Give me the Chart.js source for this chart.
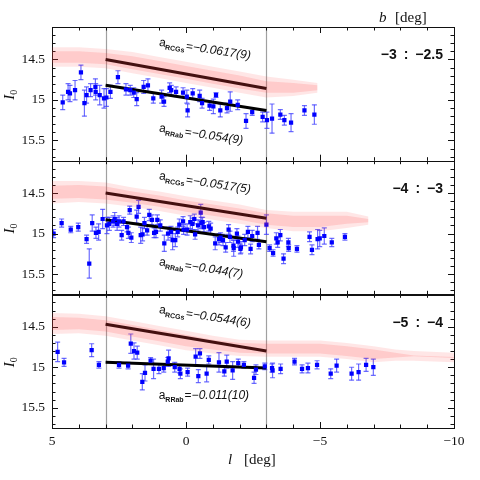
<!DOCTYPE html>
<html>
<head>
<meta charset="utf-8">
<script src="https://cdn.jsdelivr.net/npm/chart.js@4"></script>
<style>
body{margin:0;background:#fff;}
#wrap{position:relative;width:480px;height:480px;}
#wrap canvas{position:absolute;left:0;top:0;}
</style>
</head>
<body>
<div id="wrap">
<canvas id="panel0" width="480" height="480"></canvas>
<canvas id="panel1" width="480" height="480"></canvas>
<canvas id="panel2" width="480" height="480"></canvas>
<canvas id="halo0" width="480" height="480"></canvas>
<canvas id="core0" width="480" height="480"></canvas>
<canvas id="halo1" width="480" height="480"></canvas>
<canvas id="core1" width="480" height="480"></canvas>
<canvas id="halo2" width="480" height="480"></canvas>
<canvas id="core2" width="480" height="480"></canvas>
</div>
<script>
// tick labels and panel texts
var l_ticks = [5, 0, -5, -10];
var I_ticks = [14.5, 15, 15.5];
var b_ranges = ["\u22123\u2002:\u2002\u22122.5", "\u22124\u2002:\u2002\u22123", "\u22125\u2002:\u2002\u22124"];
var slope_rcg = ["\u22120.0617(9)", "\u22120.0517(5)", "\u22120.0544(6)"];
var slope_rr = ["\u22120.054(9)", "\u22120.044(7)", "\u22120.011(10)"];

// fitted lines, from l=3 to l=-3
var fit_l = [3, -3];
var fit_rcg = [[14.50, 14.86], [14.50, 14.81], [14.47, 14.80]];
var fit_rr = [[14.82, 15.13], [14.83, 15.10], [14.94, 15.01]];

// RRab stars, b from -3 to -2.5
var rr0_l = [4.60, 4.40, 4.33, 4.14, 3.92, 3.79, 3.71, 3.56, 3.38, 3.37, 3.22, 3.06, 2.97, 2.82, 2.54, 2.24, 2.08, 1.95, 1.84, 1.58, 1.42, 1.22, 0.91, 0.82, 0.61, 0.55, 0.37, 0.11, -0.03, -0.06, -0.25, -0.51, -0.60, -0.88, -1.02, -1.12, -1.28, -1.53, -1.65, -1.93, -2.24, -2.47, -2.86, -3.02, -3.21, -3.52, -3.67, -3.92, -4.42, -4.79];
var rr0_I = [15.03, 14.90, 14.92, 14.88, 14.66, 15.04, 14.94, 14.88, 14.84, 14.90, 14.94, 14.98, 14.97, 14.90, 14.72, 14.87, 14.88, 14.91, 14.99, 14.84, 14.82, 14.98, 14.96, 15.02, 14.85, 14.88, 14.90, 14.91, 14.96, 15.13, 14.92, 14.95, 15.04, 15.07, 15.08, 14.94, 15.13, 15.10, 15.02, 15.06, 15.26, 15.15, 15.21, 15.25, 15.23, 15.18, 15.25, 15.28, 15.13, 15.18];
var rr0_err = [0.09, 0.10, 0.10, 0.12, 0.09, 0.16, 0.10, 0.08, 0.10, 0.10, 0.12, 0.12, 0.11, 0.08, 0.08, 0.07, 0.06, 0.06, 0.08, 0.08, 0.08, 0.06, 0.08, 0.06, 0.06, 0.06, 0.06, 0.06, 0.08, 0.08, 0.06, 0.07, 0.06, 0.06, 0.09, 0.03, 0.08, 0.06, 0.12, 0.06, 0.09, 0.04, 0.06, 0.10, 0.18, 0.06, 0.06, 0.11, 0.06, 0.12];

// RRab stars, b from -4 to -3
var rr1_l = [4.94, 4.64, 4.30, 4.02, 3.71, 3.61, 3.50, 3.36, 3.26, 3.11, 2.95, 2.86, 2.72, 2.66, 2.57, 2.50, 2.40, 2.33, 2.20, 2.15, 2.10, 2.04, 1.84, 1.77, 1.69, 1.62, 1.55, 1.45, 1.37, 1.27, 1.19, 1.12, 1.07, 0.96, 0.81, 0.67, 0.56, 0.50, 0.40, 0.31, 0.25, 0.11, 0.09, -0.04, -0.16, -0.24, -0.31, -0.34, -0.45, -0.55, -0.57, -0.62, -0.67, -0.85, -0.92, -1.09, -1.23, -1.29, -1.38, -1.48, -1.59, -1.64, -1.77, -1.78, -1.90, -1.94, -2.03, -2.05, -2.19, -2.31, -2.41, -2.47, -2.67, -2.72, -3.00, -3.12, -3.25, -3.37, -3.42, -3.52, -3.64, -3.82, -3.83, -4.14, -4.61, -4.70, -4.91, -4.99, -5.16, -5.44, -5.93];
var rr1_I = [15.00, 14.87, 14.95, 14.92, 15.07, 15.37, 14.87, 14.99, 14.98, 14.82, 14.90, 14.88, 14.85, 14.82, 14.88, 14.85, 15.02, 14.85, 14.92, 14.99, 14.71, 15.05, 14.79, 14.67, 15.02, 15.01, 14.87, 14.96, 14.77, 14.83, 14.99, 14.98, 14.83, 14.90, 15.12, 15.00, 14.98, 15.08, 15.08, 14.98, 14.89, 14.85, 14.95, 14.95, 14.86, 14.88, 14.82, 15.01, 14.90, 14.74, 14.87, 14.86, 14.92, 14.91, 14.94, 15.12, 15.07, 15.05, 15.08, 15.17, 14.95, 15.04, 15.15, 15.18, 15.00, 15.10, 15.19, 15.17, 15.08, 14.98, 15.19, 15.03, 14.99, 15.14, 14.89, 15.18, 15.24, 15.06, 15.11, 15.02, 15.31, 15.11, 15.18, 15.19, 15.04, 15.20, 15.07, 15.06, 15.03, 15.11, 15.04];
var rr1_err = [0.05, 0.05, 0.04, 0.05, 0.05, 0.18, 0.10, 0.07, 0.10, 0.12, 0.10, 0.08, 0.07, 0.08, 0.08, 0.07, 0.06, 0.05, 0.06, 0.07, 0.05, 0.06, 0.08, 0.08, 0.10, 0.08, 0.07, 0.06, 0.07, 0.06, 0.06, 0.07, 0.06, 0.07, 0.10, 0.08, 0.07, 0.12, 0.08, 0.06, 0.07, 0.06, 0.06, 0.07, 0.08, 0.07, 0.06, 0.06, 0.07, 0.10, 0.07, 0.06, 0.06, 0.06, 0.07, 0.08, 0.07, 0.06, 0.07, 0.06, 0.06, 0.07, 0.07, 0.10, 0.06, 0.07, 0.06, 0.07, 0.07, 0.07, 0.06, 0.07, 0.08, 0.05, 0.12, 0.04, 0.04, 0.07, 0.06, 0.07, 0.06, 0.05, 0.04, 0.04, 0.06, 0.06, 0.12, 0.10, 0.10, 0.05, 0.04];

// RRab stars, b from -5 to -4
var rr2_l = [4.79, 4.55, 3.52, 3.25, 2.50, 2.16, 2.06, 1.94, 1.82, 1.63, 1.53, 1.32, 1.21, 1.01, 0.83, 0.68, 0.65, 0.42, 0.24, 0.21, -0.06, -0.36, -0.46, -0.52, -0.77, -0.85, -1.23, -1.43, -1.52, -1.74, -1.95, -2.16, -2.54, -2.61, -2.94, -3.21, -3.23, -3.53, -4.05, -4.33, -4.55, -4.89, -5.40, -5.62, -6.18, -6.44, -6.72, -6.99];
var rr2_I = [14.81, 14.94, 14.79, 14.97, 14.97, 14.98, 14.71, 14.80, 14.82, 15.18, 15.07, 14.92, 15.02, 15.02, 15.01, 14.93, 14.89, 15.00, 15.02, 15.08, 15.06, 14.87, 15.11, 14.83, 15.08, 14.91, 14.94, 15.05, 14.93, 15.04, 14.95, 14.97, 15.13, 15.03, 14.99, 15.01, 15.04, 15.02, 14.93, 15.02, 15.01, 14.97, 15.08, 14.98, 15.08, 15.06, 14.97, 15.00];
var rr2_err = [0.12, 0.05, 0.08, 0.04, 0.04, 0.04, 0.12, 0.10, 0.08, 0.10, 0.10, 0.04, 0.12, 0.06, 0.05, 0.05, 0.10, 0.06, 0.05, 0.06, 0.05, 0.10, 0.08, 0.06, 0.10, 0.05, 0.12, 0.06, 0.08, 0.11, 0.05, 0.04, 0.07, 0.06, 0.04, 0.05, 0.09, 0.06, 0.04, 0.05, 0.06, 0.05, 0.06, 0.08, 0.08, 0.10, 0.08, 0.10];

// red clump giant cloud: centre line, outer and inner half widths
var rcg0_l = [5, 4, 3, 2, 1, 0, -1, -2, -3, -4, -4.9];
var rcg0_mid = [14.47, 14.47, 14.49, 14.54, 14.60, 14.66, 14.72, 14.78, 14.84, 14.85, 14.85];
var rcg0_halo = [0.12, 0.12, 0.12, 0.13, 0.13, 0.13, 0.13, 0.13, 0.13, 0.10, 0.06];
var rcg0_core = [0.07, 0.07, 0.07, 0.08, 0.08, 0.08, 0.08, 0.08, 0.07, 0.06, 0.03];

var rcg1_l = [5, 4, 3, 2, 1, 0, -1, -2, -3, -4, -5, -6, -6.8];
var rcg1_mid = [14.49, 14.48, 14.50, 14.55, 14.60, 14.66, 14.71, 14.76, 14.82, 14.85, 14.85, 14.83, 14.84];
var rcg1_halo = [0.14, 0.13, 0.13, 0.12, 0.12, 0.12, 0.12, 0.12, 0.11, 0.12, 0.12, 0.10, 0.05];
var rcg1_core = [0.08, 0.08, 0.08, 0.07, 0.07, 0.07, 0.07, 0.07, 0.07, 0.07, 0.07, 0.05, 0.02];

var rcg2_l = [5, 4, 3, 2, 1, 0, -1, -2, -3, -4, -5, -6, -7, -7.8, -8.5, -10];
var rcg2_mid = [14.46, 14.46, 14.49, 14.55, 14.61, 14.67, 14.72, 14.76, 14.77, 14.77, 14.77, 14.80, 14.84, 14.85, 14.86, 14.88];
var rcg2_halo = [0.13, 0.12, 0.12, 0.12, 0.12, 0.12, 0.11, 0.10, 0.10, 0.10, 0.10, 0.10, 0.10, 0.07, 0.06, 0.06];
var rcg2_core = [0.08, 0.07, 0.07, 0.07, 0.07, 0.07, 0.06, 0.06, 0.06, 0.06, 0.06, 0.06, 0.06, 0.03, 0.005, 0.005];

var panels = [
    {l: rr0_l, I: rr0_I, err: rr0_err, cl: rcg0_l, mid: rcg0_mid, halo: rcg0_halo, core: rcg0_core},
    {l: rr1_l, I: rr1_I, err: rr1_err, cl: rcg1_l, mid: rcg1_mid, halo: rcg1_halo, core: rcg1_core},
    {l: rr2_l, I: rr2_I, err: rr2_err, cl: rcg2_l, mid: rcg2_mid, halo: rcg2_halo, core: rcg2_core}
];

var panel_top = [27, 160.7, 294.3];
var panel_bottom = [160.7, 294.3, 428];

var serif = '"Liberation Serif", "DejaVu Serif", serif';
var sans = '"Liberation Sans", Arial, sans-serif';

// closed outline of a band: along the bright edge, then back along the faint edge
function bandLoop(ls, mid, half){
    var out = [];
    for(let i=0; i<ls.length; i++){
        out.push({x: ls[i], y: mid[i] - half[i]});
    }
    for(let i=ls.length-1; i>=0; i--){
        out.push({x: ls[i], y: mid[i] + half[i]});
    }
    return out;
}

function errorBars(ls, vals, errs){
    var out = [];
    for(let i=0; i<ls.length; i++){
        out.push({x: ls[i], y: vals[i] - errs[i]});
        out.push({x: ls[i], y: vals[i] + errs[i]});
        out.push({x: ls[i], y: null});
    }
    return out;
}

function points(ls, vals){
    var out = [];
    for(let i=0; i<ls.length; i++){
        out.push({x: ls[i], y: vals[i]});
    }
    return out;
}

function slopeLabel(ctx, x, y, angle, sub, value){
    ctx.save();
    ctx.translate(x, y);
    ctx.rotate(angle);
    ctx.fillStyle = '#111';
    ctx.textAlign = 'left';
    ctx.textBaseline = 'alphabetic';
    ctx.font = '12px ' + sans;
    ctx.fillText('a', 0, 0);
    var w = ctx.measureText('a').width;
    ctx.font = 'bold 7px ' + sans;
    ctx.fillText(sub, w, 3);
    w += ctx.measureText(sub).width + 1;
    ctx.font = '12px ' + sans;
    ctx.fillText('=', w, 0);
    w += ctx.measureText('=').width;
    ctx.font = 'italic 12px ' + sans;
    ctx.fillText(value, w, 0);
    ctx.restore();
}

function decoPlugin(p){
    return {
        id: 'deco' + p,
        beforeDatasetsDraw: function(chart){
            var ctx = chart.ctx, a = chart.chartArea, xs = chart.scales.x;
            ctx.save();
            ctx.strokeStyle = '#a0a0a0';
            ctx.lineWidth = 1.2;
            fit_l.forEach(function(v){
                var px = Math.round(xs.getPixelForValue(v)) + 0.5;
                ctx.beginPath();
                ctx.moveTo(px, a.top);
                ctx.lineTo(px, a.bottom);
                ctx.stroke();
            });
            ctx.restore();
        },
        afterDraw: function(chart){
            var ctx = chart.ctx, a = chart.chartArea;
            var xs = chart.scales.x, ys = chart.scales.y;
            ctx.save();
            ctx.strokeStyle = '#111';
            ctx.lineWidth = 1;
            ctx.strokeRect(Math.round(a.left) + 0.5, Math.round(a.top) + 0.5,
                           Math.round(a.right - a.left), Math.round(a.bottom - a.top));
            ctx.beginPath();
            for(let v=-10; v<=5; v++){
                var len = (v % 5 === 0) ? 6 : 3.5;
                var px = Math.round(xs.getPixelForValue(v)) + 0.5;
                ctx.moveTo(px, a.bottom); ctx.lineTo(px, a.bottom - len);
                ctx.moveTo(px, a.top); ctx.lineTo(px, a.top + len);
            }
            for(let k=142; k<=157; k++){
                var len2 = (k % 5 === 0) ? 6 : 3.5;
                var py = Math.round(ys.getPixelForValue(k/10)) + 0.5;
                ctx.moveTo(a.left, py); ctx.lineTo(a.left + len2, py);
                ctx.moveTo(a.right, py); ctx.lineTo(a.right - len2, py);
            }
            ctx.stroke();

            ctx.fillStyle = '#111';
            ctx.font = '13.5px ' + serif;
            ctx.textAlign = 'right';
            ctx.textBaseline = 'middle';
            I_ticks.forEach(function(v){
                ctx.fillText(String(v), a.left - 7, ys.getPixelForValue(v));
            });

            // I_0 axis title
            ctx.save();
            ctx.translate(14, (a.top + a.bottom) / 2);
            ctx.rotate(-Math.PI / 2);
            ctx.textAlign = 'left';
            ctx.textBaseline = 'alphabetic';
            ctx.font = 'italic 15px ' + serif;
            ctx.fillText('I', -6, 0);
            ctx.font = '10px ' + serif;
            ctx.fillText('0', -1, 3);
            ctx.restore();

            ctx.font = 'bold 14px ' + sans;
            ctx.textAlign = 'right';
            ctx.textBaseline = 'middle';
            ctx.fillText(b_ranges[p], 443, ys.getPixelForValue(14.45));

            var lx = xs.getPixelForValue(1.02);
            var ang_rr = (p === 2) ? 0 : 0.15;
            slopeLabel(ctx, lx, ys.getPixelForValue(14.33), 0.15, 'RCGs', slope_rcg[p]);
            slopeLabel(ctx, lx, ys.getPixelForValue(15.39), ang_rr, 'RRab', slope_rr[p]);

            if(p === 0){
                ctx.textAlign = 'left';
                ctx.textBaseline = 'alphabetic';
                ctx.font = 'italic 15px ' + serif;
                ctx.fillText('b', 379, 22);
                ctx.font = '15px ' + serif;
                ctx.fillText('[deg]', 395, 22);
            }
            if(p === 2){
                ctx.textAlign = 'center';
                ctx.textBaseline = 'middle';
                ctx.font = '13.5px ' + serif;
                l_ticks.forEach(function(v){
                    var txt = v < 0 ? '\u2212' + Math.abs(v) : String(v);
                    ctx.fillText(txt, xs.getPixelForValue(v), 441);
                });
                ctx.textAlign = 'left';
                ctx.textBaseline = 'alphabetic';
                ctx.font = 'italic 15px ' + serif;
                ctx.fillText('l', 228, 464);
                ctx.font = '15px ' + serif;
                ctx.fillText('[deg]', 244, 464);
            }
            ctx.restore();
        }
    };
}

function baseOptions(p){
    return {
        responsive: false,
        animation: false,
        events: [],
        layout: {padding: {left: 52, right: 26, top: panel_top[p], bottom: 480 - panel_bottom[p]}},
        plugins: {legend: {display: false}, tooltip: {enabled: false}},
        scales: {
            x: {type: 'linear', min: -10, max: 5, reverse: true, display: false},
            y: {type: 'linear', min: 14.1, max: 15.75, reverse: true, display: false}
        }
    };
}

// one band of the red clump cloud per canvas
function makeBand(id, p, half, colour){
    var d = panels[p];
    return new Chart(id, {
        type: 'line',
        data: {datasets: [{
            data: bandLoop(d.cl, d.mid, half),
            fill: 'shape',
            backgroundColor: colour,
            borderWidth: 0,
            pointRadius: 0,
            tension: 0
        }]},
        options: baseOptions(p)
    });
}

function makePanel(p){
    var d = panels[p];
    var datasets = [
        {
            data: errorBars(d.l, d.I, d.err),
            borderColor: 'rgba(60,60,255,0.75)',
            borderWidth: 1.2,
            pointStyle: 'line',
            pointRadius: 2.5,
            pointBorderColor: 'rgba(60,60,255,0.75)',
            pointBorderWidth: 1.2,
            spanGaps: false,
            tension: 0,
            fill: false,
            order: 3
        },
        {
            data: points(fit_l, fit_rcg[p]),
            borderColor: '#000', borderWidth: 3, pointRadius: 0, fill: false, order: 2
        },
        {
            data: points(fit_l, fit_rr[p]),
            borderColor: '#000', borderWidth: 3, pointRadius: 0, fill: false, order: 2
        },
        {
            data: points(d.l, d.I),
            showLine: false,
            pointStyle: 'rect',
            pointRadius: 3,
            pointBackgroundColor: '#0000ff',
            pointBorderColor: '#0000ff',
            pointBorderWidth: 0,
            fill: false,
            order: 1
        }
    ];

    return new Chart('panel' + p, {
        type: 'line',
        data: {datasets: datasets},
        options: baseOptions(p),
        plugins: [decoPlugin(p)]
    });
}

for(let p=0; p<3; p++){
    makePanel(p);
    makeBand('halo' + p, p, panels[p].halo, 'rgba(255,60,60,0.13)');
    makeBand('core' + p, p, panels[p].core, 'rgba(255,60,60,0.16)');
}
</script>
</body>
</html>
